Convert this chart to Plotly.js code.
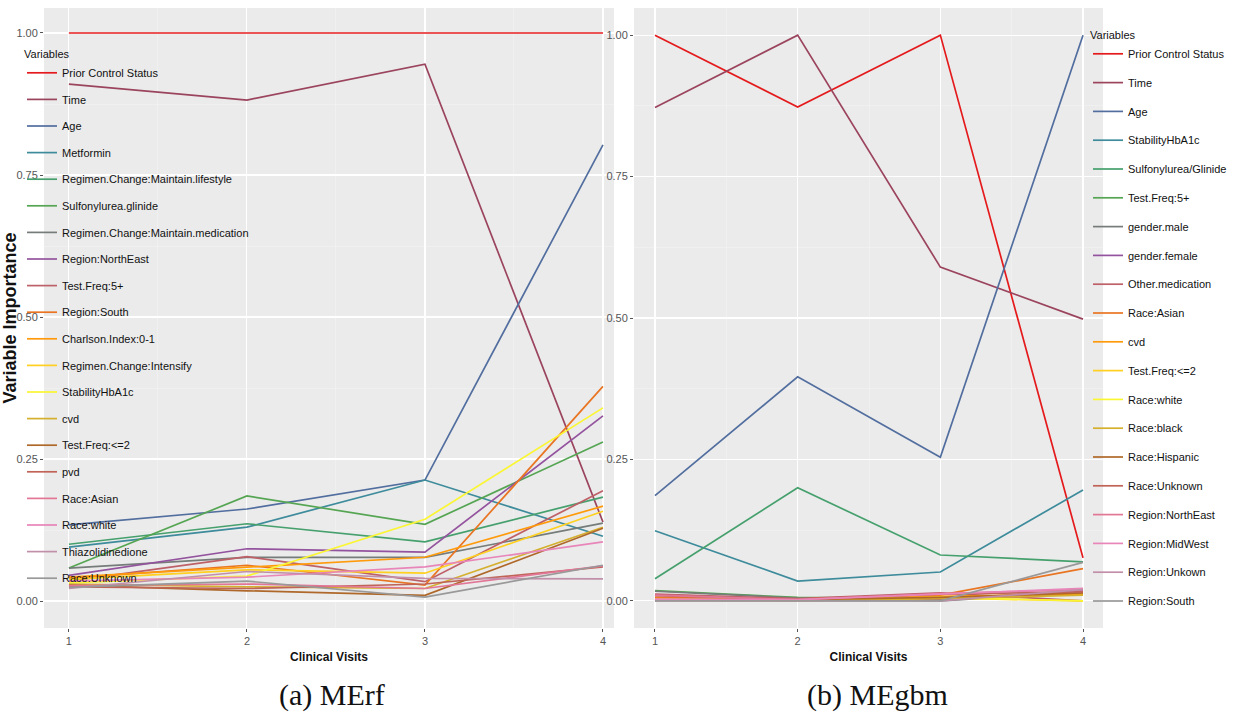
<!DOCTYPE html>
<html>
<head>
<meta charset="utf-8">
<script src="https://cdn.plot.ly/plotly-3.0.1.min.js"></script>
<style>html,body{margin:0;padding:0;background:#fff;overflow:hidden;}#chart{width:1238px;height:720px;}</style>
</head>
<body>
<div id="chart"></div>
<script>
// ---------- data ----------
const visits = [1, 2, 3, 4];
const visitTicks = ['1', '2', '3', '4'];
const importanceTicks = [0, 0.25, 0.5, 0.75, 1.0];

// (a) MErf
const merfNames = ['Prior Control Status', 'Time', 'Age', 'Metformin',
  'Regimen.Change:Maintain.lifestyle', 'Sulfonylurea.glinide',
  'Regimen.Change:Maintain.medication', 'Region:NorthEast', 'Test.Freq:5+',
  'Region:South', 'Charlson.Index:0-1', 'Regimen.Change:Intensify',
  'StabilityHbA1c', 'cvd', 'Test.Freq:<=2', 'pvd', 'Race:Asian', 'Race:white',
  'Thiazolidinedione', 'Race:Unknown'];
const rf_PriorControlStatus = [1.000, 1.000, 1.000, 1.000];
const rf_Time               = [0.910, 0.882, 0.945, 0.139];
const rf_Age                = [0.134, 0.162, 0.213, 0.803];
const rf_Metformin          = [0.095, 0.130, 0.213, 0.114];
const rf_MaintainLifestyle  = [0.100, 0.136, 0.104, 0.183];
const rf_Sulfonylurea       = [0.058, 0.185, 0.135, 0.280];
const rf_MaintainMedication = [0.058, 0.077, 0.077, 0.137];
const rf_RegionNorthEast    = [0.045, 0.092, 0.086, 0.326];
const rf_TestFreq5          = [0.035, 0.078, 0.034, 0.194];
const rf_RegionSouth        = [0.040, 0.063, 0.028, 0.378];
const rf_Charlson01         = [0.042, 0.060, 0.077, 0.167];
const rf_Intensify          = [0.038, 0.055, 0.049, 0.158];
const rf_StabilityHbA1c     = [0.032, 0.044, 0.144, 0.340];
const rf_cvd                = [0.030, 0.025, 0.022, 0.130];
const rf_TestFreqLE2        = [0.028, 0.018, 0.010, 0.128];
const rf_pvd                = [0.025, 0.022, 0.030, 0.060];
const rf_RaceAsian          = [0.027, 0.030, 0.022, 0.062];
const rf_RaceWhite          = [0.035, 0.042, 0.060, 0.104];
const rf_Thiazolidinedione  = [0.022, 0.052, 0.040, 0.039];
const rf_RaceUnknown        = [0.024, 0.035, 0.007, 0.063];
const merfValues = [rf_PriorControlStatus, rf_Time, rf_Age, rf_Metformin,
  rf_MaintainLifestyle, rf_Sulfonylurea, rf_MaintainMedication, rf_RegionNorthEast,
  rf_TestFreq5, rf_RegionSouth, rf_Charlson01, rf_Intensify, rf_StabilityHbA1c,
  rf_cvd, rf_TestFreqLE2, rf_pvd, rf_RaceAsian, rf_RaceWhite, rf_Thiazolidinedione,
  rf_RaceUnknown];

// (b) MEgbm
const megbmNames = ['Prior Control Status', 'Time', 'Age', 'StabilityHbA1c',
  'Sulfonylurea/Glinide', 'Test.Freq:5+', 'gender.male', 'gender.female',
  'Other.medication', 'Race:Asian', 'cvd', 'Test.Freq:<=2', 'Race:white',
  'Race:black', 'Race:Hispanic', 'Race:Unknown', 'Region:NorthEast',
  'Region:MidWest', 'Region:Unkown', 'Region:South'];
const gbm_PriorControlStatus = [1.000, 0.873, 1.000, 0.076];
const gbm_Time               = [0.872, 1.000, 0.590, 0.498];
const gbm_Age                = [0.186, 0.396, 0.254, 1.000];
const gbm_StabilityHbA1c     = [0.124, 0.035, 0.051, 0.196];
const gbm_Sulfonylurea       = [0.039, 0.200, 0.081, 0.069];
const gbm_TestFreq5          = [0.018, 0.006, 0.004, 0.012];
const gbm_genderMale         = [0.017, 0.005, 0.000, 0.015];
const gbm_genderFemale       = [0.005, 0.002, 0.003, 0.018];
const gbm_OtherMedication    = [0.012, 0.004, 0.014, 0.000];
const gbm_RaceAsian          = [0.006, 0.003, 0.010, 0.057];
const gbm_cvd                = [0.004, 0.000, 0.008, 0.012];
const gbm_TestFreqLE2        = [0.003, 0.001, 0.005, 0.000];
const gbm_RaceWhite          = [0.002, 0.000, 0.006, 0.000];
const gbm_RaceBlack          = [0.001, 0.000, 0.004, 0.010];
const gbm_RaceHispanic       = [0.002, 0.002, 0.006, 0.014];
const gbm_RaceUnknown        = [0.009, 0.003, 0.012, 0.016];
const gbm_RegionNorthEast    = [0.010, 0.002, 0.013, 0.020];
const gbm_RegionMidWest      = [0.003, 0.002, 0.012, 0.022];
const gbm_RegionUnkown       = [0.000, 0.000, 0.000, 0.020];
const gbm_RegionSouth        = [0.000, 0.000, 0.000, 0.068];
const megbmValues = [gbm_PriorControlStatus, gbm_Time, gbm_Age, gbm_StabilityHbA1c,
  gbm_Sulfonylurea, gbm_TestFreq5, gbm_genderMale, gbm_genderFemale,
  gbm_OtherMedication, gbm_RaceAsian, gbm_cvd, gbm_TestFreqLE2, gbm_RaceWhite,
  gbm_RaceBlack, gbm_RaceHispanic, gbm_RaceUnknown, gbm_RegionNorthEast,
  gbm_RegionMidWest, gbm_RegionUnkown, gbm_RegionSouth];

// 20-colour ramp of the Set1 palette
const palette = ['#E41A1C', '#9B445E', '#526E9F', '#3D8B9B', '#46A06D', '#55A553',
  '#757C79', '#94539E', '#BE6067', '#E97522', '#FF9A0B', '#FFD020', '#FAF632',
  '#D5AF2E', '#AF6829', '#C06458', '#E27697', '#E885B9', '#C18FA9', '#999999'];

// ---------- figure ----------
const W = 1238, H = 720;
const px = v => v / W, py = v => 1 - v / H;
const sans = '"Liberation Sans", Arial, sans-serif';

const traces = [];
merfNames.forEach((n, i) => traces.push({
  x: visits, y: merfValues[i], name: n, type: 'scatter', mode: 'lines',
  line: {color: palette[i], width: 1.7}, xaxis: 'x', yaxis: 'y',
  legend: 'legend', legendgroup: 'a' + i
}));
megbmNames.forEach((n, i) => traces.push({
  x: visits, y: megbmValues[i], name: n, type: 'scatter', mode: 'lines',
  line: {color: palette[i], width: 1.7}, xaxis: 'x2', yaxis: 'y2',
  legend: 'legend2', legendgroup: 'b' + i
}));

const tickFont = {family: sans, size: 11, color: '#555'};
function xax(domain, range) {
  return {
    domain: domain, range: range, tickvals: visits, ticktext: visitTicks,
    showgrid: true, gridcolor: '#ffffff', gridwidth: 1.1, zeroline: false,
    ticks: 'outside', ticklen: 3, tickcolor: '#555', tickwidth: 1,
    tickfont: tickFont,
    minor: {dtick: 0.5, tick0: 0, showgrid: true, gridcolor: '#f4f4f4', gridwidth: 0.6, ticks: ''},
    showline: false, fixedrange: true,
    title: {text: 'Clinical Visits', font: {family: sans, size: 12, color: '#111', weight: 'bold'}, standoff: 6}
  };
}
function yax(domain, anchor, range, title) {
  const a = {
    domain: domain, anchor: anchor, range: range, tickvals: importanceTicks,
    tickformat: '.2f', showgrid: true, gridcolor: '#ffffff', gridwidth: 1.1, zeroline: false,
    ticks: 'outside', ticklen: 3, tickcolor: '#555', tickwidth: 1,
    tickfont: tickFont,
    minor: {dtick: 0.125, tick0: 0, showgrid: true, gridcolor: '#f4f4f4', gridwidth: 0.6, ticks: ''},
    showline: false, fixedrange: true
  };
  if (title) a.title = {text: title, font: {family: sans, size: 18, color: '#111', weight: 'bold'}, standoff: 0};
  return a;
}

const legendFont = {family: sans, size: 11, color: '#111'};
const layout = {
  width: W, height: H,
  margin: {l: 0, r: 0, t: 0, b: 0},
  paper_bgcolor: '#ffffff', plot_bgcolor: '#ebebeb',
  showlegend: true,
  xaxis: xax([px(44), px(614)], [0.86, 4.062]),
  yaxis: yax([py(628), py(8)], 'x', [-0.0475, 1.044], 'Variable Importance'),
  xaxis2: Object.assign(xax([px(634), px(1103)], [0.853, 4.14]), {anchor: 'y2'}),
  yaxis2: yax([py(628), py(8)], 'x2', [-0.048, 1.048], null),
  legend: {
    x: px(22), y: py(44), xanchor: 'left', yanchor: 'top',
    bgcolor: 'rgba(0,0,0,0)', borderwidth: 0, font: legendFont,
    title: {text: 'Variables', font: legendFont}, tracegroupgap: 7.6, itemclick: false, itemdoubleclick: false
  },
  legend2: {
    x: px(1088), y: py(25), xanchor: 'left', yanchor: 'top',
    bgcolor: 'rgba(0,0,0,0)', borderwidth: 0, font: legendFont,
    title: {text: 'Variables', font: legendFont}, tracegroupgap: 9.8, itemclick: false, itemdoubleclick: false
  },
  annotations: [
    {text: '(a) MErf', xref: 'paper', yref: 'paper', x: px(332), y: py(695), xanchor: 'center', yanchor: 'middle',
     showarrow: false, font: {family: '"Liberation Serif", "DejaVu Serif", serif', size: 30, color: '#111'}},
    {text: '(b) MEgbm', xref: 'paper', yref: 'paper', x: px(877), y: py(695), xanchor: 'center', yanchor: 'middle',
     showarrow: false, font: {family: '"Liberation Serif", "DejaVu Serif", serif', size: 30, color: '#111'}}
  ]
};

Plotly.newPlot('chart', traces, layout, {displayModeBar: false, staticPlot: true});
</script>
</body>
</html>
